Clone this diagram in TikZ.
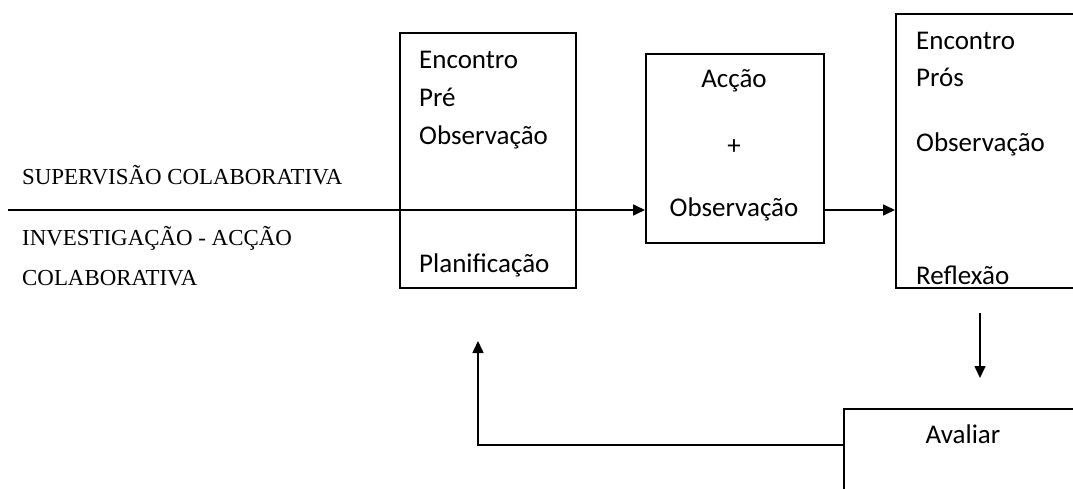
\documentclass[tikz,border=0pt]{standalone}
\usepackage{fontspec}
\usetikzlibrary{arrows.meta}
\newfontfamily\boxfont{Carlito}
\newfontfamily\labelfont{Liberation Serif}
\begin{document}
\begin{tikzpicture}[x=1pt,y=-1pt,
  stage/.style={draw, line width=1.6pt, rectangle, anchor=north west, inner sep=0pt},
  boxtext/.style={anchor=base west, inner sep=0pt, font=\boxfont\fontsize{27}{32}\selectfont},
  boxtextc/.style={anchor=base, inner sep=0pt, font=\boxfont\fontsize{27}{32}\selectfont},
  sidelabel/.style={anchor=base west, inner sep=0pt, font=\labelfont\fontsize{22.9}{27}\selectfont},
  flow/.style={-{Triangle[length=12pt,width=11pt]}, line width=1.6pt}]
\useasboundingbox (0,0) rectangle (1073,489);
\clip (0,0) rectangle (1073,489);

% stages
\node[stage, minimum width=176pt, minimum height=255pt] (b1) at (399,32) {};
\node[stage, minimum width=178pt, minimum height=189pt] (b2) at (645,53) {};
\node[stage, minimum width=220pt, minimum height=274pt] (b3) at (895,13) {};
\node[stage, minimum width=260pt, minimum height=120pt] (b4) at (843,408) {};

% free ends of the connectors
\coordinate (start) at (8,210);
\coordinate (down1) at (980,313);
\coordinate (down2) at (980,378);
\coordinate (back1) at (478,445);
\coordinate (back2) at (478,341);

% connectors
\draw[flow] (start) -- (start -| b2.west);
\draw[flow] (b2.east |- start) -- (b3.west |- start);
\draw[flow] (down1) -- (down2);
\draw[flow] (b4.west |- back1) -- (back1) -- (back2);

% side labels
\node[sidelabel] (l1) at (22,185) {SUPERVISÃO COLABORATIVA};
\node[sidelabel] (l2) at (22,245) {INVESTIGAÇÃO - ACÇÃO};
\node[sidelabel] (l3) at (22,285) {COLABORATIVA};

% first stage
\node[boxtext] (t11) at (419,69) {Encontro};
\node[boxtext] (t12) at (419,107) {Pré};
\node[boxtext] (t13) at (419,145) {Observação};
\node[boxtext] (t14) at (419,272) {Planificação};

% second stage
\node[boxtextc] (t21) at (734,88) {Acção};
\node[boxtextc] (t22) at (734,155) {+};
\node[boxtextc] (t23) at (734,217) {Observação};

% third stage
\node[boxtext] (t31) at (916,50) {Encontro};
\node[boxtext] (t32) at (916,87) {Prós};
\node[boxtext] (t33) at (916,152) {Observação};
\begin{scope}
  % the last line does not fit and is cut off above the frame
  \clip (b3.north west) rectangle ([yshift=-5pt]b3.south east);
  \node[boxtext] (t34) at (916,284) {Reflexão};
\end{scope}

% evaluation
\node[boxtextc] (t41) at (963,443) {Avaliar};
\end{tikzpicture}
\end{document}
